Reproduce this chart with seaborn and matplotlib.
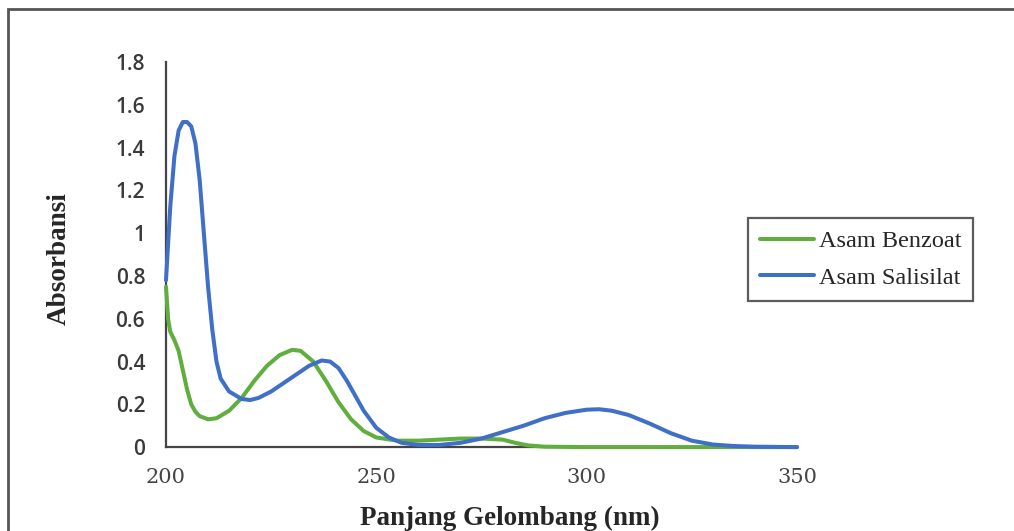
import pandas as pd
import matplotlib.pyplot as plt
import seaborn as sns
from matplotlib.patches import Rectangle
from matplotlib.lines import Line2D

# Spektrum serapan
wl_benzoat = [200, 200.5, 201, 202, 203, 204, 205, 206, 207, 208, 210, 212, 215, 218, 221,
              224, 227, 230, 232, 235, 238, 241, 244, 247, 250, 255, 260, 265, 270, 275,
              280, 283, 286, 290, 300, 320, 340, 350]
abs_benzoat = [0.75, 0.60, 0.54, 0.50, 0.45, 0.36, 0.27, 0.20, 0.165, 0.145, 0.13, 0.135, 0.17,
               0.23, 0.31, 0.38, 0.43, 0.455, 0.45, 0.40, 0.31, 0.21, 0.13, 0.075, 0.045, 0.03,
               0.03, 0.035, 0.04, 0.04, 0.035, 0.02, 0.008, 0.002, 0.0, 0.0, 0.0, 0.0]

wl_salisilat = [200, 201, 202, 203, 204, 205, 206, 207, 208, 209, 210, 211, 212, 213, 215,
                218, 220, 222, 225, 228, 231, 234, 237, 239, 241, 243, 245, 247, 250, 253,
                256, 260, 265, 270, 275, 280, 285, 290, 295, 300, 303, 306, 310, 315, 320,
                325, 330, 335, 340, 350]
abs_salisilat = [0.78, 1.12, 1.36, 1.48, 1.52, 1.52, 1.50, 1.42, 1.25, 1.00, 0.75, 0.55, 0.40,
                 0.32, 0.26, 0.225, 0.22, 0.23, 0.26, 0.30, 0.34, 0.38, 0.405, 0.40, 0.37, 0.31,
                 0.24, 0.17, 0.09, 0.045, 0.02, 0.01, 0.01, 0.02, 0.04, 0.07, 0.10, 0.135, 0.16,
                 0.175, 0.177, 0.17, 0.15, 0.11, 0.065, 0.03, 0.012, 0.005, 0.002, 0.0]

x_ticks = [200, 250, 300, 350]
y_ticks = [0, 0.2, 0.4, 0.6, 0.8, 1, 1.2, 1.4, 1.6, 1.8]
y_labels = ['0', '0.2', '0.4', '0.6', '0.8', '1', '1.2', '1.4', '1.6', '1.8']

df = pd.concat([
    pd.DataFrame({'nm': wl_benzoat, 'A': abs_benzoat, 'Sampel': 'Asam Benzoat'}),
    pd.DataFrame({'nm': wl_salisilat, 'A': abs_salisilat, 'Sampel': 'Asam Salisilat'}),
], ignore_index=True)

sns.set_style('white')
plt.rcParams['font.family'] = ['Liberation Serif', 'DejaVu Serif']

fig = plt.figure(figsize=(10.14, 5.31), dpi=100)
ax = fig.add_axes([0.1637, 0.158, 0.6223, 0.725])

palette = {'Asam Benzoat': '#5FAE3E', 'Asam Salisilat': '#3F6FC6'}
sns.lineplot(data=df, x='nm', y='A', hue='Sampel', palette=palette, linewidth=2.9,
             sort=False, ax=ax, legend=False)
for ln in ax.lines:
    ln.set_solid_joinstyle('round')
    ln.set_clip_on(False)

ax.set_xlim(200, 350)
ax.set_ylim(0, 1.8)
ax.set_xticks(x_ticks)
ax.set_xticklabels([str(v) for v in x_ticks], fontsize=15, color='#444444',
                   family=['DejaVu Serif'])
ax.set_yticks(y_ticks)
ax.set_yticklabels(y_labels, fontsize=15, color='#3a3a3a', fontweight='semibold',
                   family=['Open Sans', 'DejaVu Sans'])
ax.tick_params(axis='x', length=0, pad=15)
ax.tick_params(axis='y', length=0, pad=15)

for s in ['top', 'right']:
    ax.spines[s].set_visible(False)
for s in ['left', 'bottom']:
    ax.spines[s].set_color('#444444')
    ax.spines[s].set_linewidth(1.6)
    ax.spines[s].set_zorder(1)

ax.set_xlabel('Panjang Gelombang (nm)', fontsize=19.5, fontweight='bold')
ax.set_ylabel('Absorbansi', fontsize=19.5, fontweight='bold')
ax.xaxis.set_label_coords(0.545, -0.152)
ax.yaxis.set_label_coords(-0.149, 0.49)

handles = [Line2D([], [], color=palette[k], linewidth=2.9) for k in palette]
leg = fig.legend(handles, list(palette.keys()), loc='upper left',
                 bbox_to_anchor=(0.7377, 0.5895), fontsize=17.5, frameon=True, fancybox=False,
                 handlelength=2.2, handletextpad=0.2, borderpad=0.5, labelspacing=0.6,
                 borderaxespad=0)
leg.get_frame().set_edgecolor('#333333')
leg.get_frame().set_linewidth(1.6)

fig.patches.append(Rectangle((0.008, -0.2), 1.2, 1.183, transform=fig.transFigure,
                             fill=False, edgecolor='#555555', linewidth=2))

fig.savefig('out.png', dpi=100)
